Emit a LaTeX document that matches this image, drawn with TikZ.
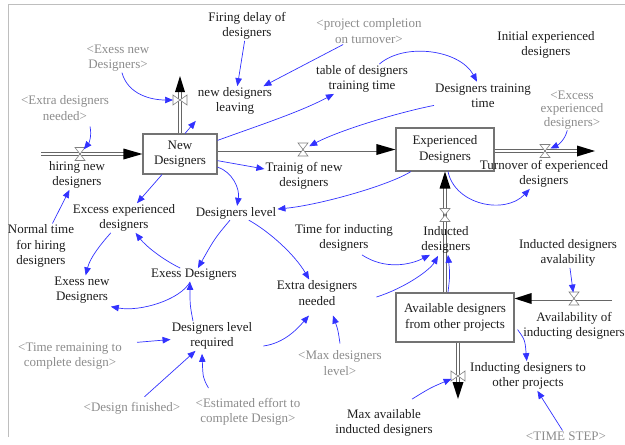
\documentclass[tikz,border=0pt]{standalone}
\usepackage{fontspec}
\setmainfont{Liberation Serif}
\usetikzlibrary{arrows.meta,calc}
\definecolor{linkblue}{RGB}{50,50,255}
\definecolor{shadowgray}{RGB}{140,140,140}
\definecolor{txt}{RGB}{30,30,30}
\definecolor{framegray}{RGB}{190,190,190}
\begin{document}
\begin{tikzpicture}[x=1pt,y=-1pt,
  lbl/.style={align=center,font=\fontsize{13}{15.5}\selectfont,inner sep=1pt,text=txt},
  shd/.style={lbl,text=shadowgray},
  stock/.style={lbl,draw=black!55,line width=1.1pt,fill=white,inner sep=0pt},
  link/.style={draw=linkblue,line width=0.7pt,-{Triangle[length=8pt,width=6.5pt]}},
  pipe/.style={draw=black!60,double=white,double distance=2.4pt,line width=0.8pt},
  pipehead/.style={fill=black},
  valveh/.pic={\draw[black!50,fill=white,line width=0.6pt] (-5,-6.5)--(5,-6.5)--(-5,6.5)--(5,6.5)--cycle;},
  valvev/.pic={\draw[black!50,fill=white,line width=0.6pt] (-7,-5)--(-7,5)--(7,-5)--(7,5)--cycle;},
]
\useasboundingbox (0,0) rectangle (625,445);
\draw[framegray,line width=0.8pt] (8,437) -- (8,4) -- (625,4);

% stocks
\node[stock,minimum width=74pt,minimum height=40pt] (ND) at (180,154) {New\\Designers};
\node[stock,minimum width=98pt,minimum height=43pt] (ED) at (445,149.5) {Experienced\\Designers};
\node[stock,minimum width=118pt,minimum height=49pt] (AD) at (455,317.5) {Available designers\\from other projects};

% pipes
\coordinate (src1) at (41,154);
\coordinate (snk1) at (180,76);
\coordinate (snk2) at (595,151);
\coordinate (src2) at (612,298.5);
\coordinate (snk3) at (458,399);
\draw[pipe] (src1) -- ($(ND.west)+(-17,0)$);
\fill[pipehead] ($(ND.west)+(-19,-5.5)$) -- (ND.west) -- ($(ND.west)+(-19,5.5)$) -- cycle;
\draw[pipe] (ND.north) -- ($(snk1)+(0,15)$);
\fill[pipehead] ($(snk1)+(-5,16)$) -- (snk1) -- ($(snk1)+(5,16)$) -- cycle;
\draw[pipe] (ND.east |- ED.west) -- ($(ED.west)+(-17,0)$);
\fill[pipehead] ($(ED.west)+(-19,-5.5)$) -- (ED.west) -- ($(ED.west)+(-19,5.5)$) -- cycle;
\draw[pipe] (ED.east |- snk2) -- ($(snk2)+(-16,0)$);
\fill[pipehead] ($(snk2)+(-18,-5.5)$) -- (snk2) -- ($(snk2)+(-18,5.5)$) -- cycle;
\draw[pipe] (ED.south |- AD.north) -- ($(ED.south)+(0,15)$);
\fill[pipehead] ($(ED.south)+(-5.5,17)$) -- (ED.south) -- ($(ED.south)+(5.5,17)$) -- cycle;
\draw[pipe] (src2) -- ($(AD.east |- src2)+(15,0)$);
\fill[pipehead] ($(AD.east |- src2)+(17,-5.5)$) -- (AD.east |- src2) -- ($(AD.east |- src2)+(17,5.5)$) -- cycle;
\draw[pipe] (AD.south -| snk3) -- ($(snk3)+(0,-15)$);
\fill[pipehead] ($(snk3)+(-5.5,-17)$) -- (snk3) -- ($(snk3)+(5.5,-17)$) -- cycle;

% valves
\coordinate (vh) at (80,154);
\coordinate (vl) at (180,100);
\coordinate (vt) at (303,149.5);
\coordinate (vto) at (545,151);
\coordinate (vi) at (445,215);
\coordinate (va) at (574,298.5);
\coordinate (vo) at (458,376);
\pic at (vh) {valveh};
\pic at (vl) {valvev};
\pic at (vt) {valveh};
\pic at (vto) {valveh};
\pic at (vi) {valveh};
\pic at (va) {valveh};
\pic at (vo) {valvev};

% variables
\node[lbl] (fd) at (247,26) {Firing delay of\\designers};
\node[shd] (pc) at (369,31) {<project completion\\on turnover>};
\node[lbl] (ied) at (546,45) {Initial experienced\\designers};
\node[shd] (enD) at (118,58) {<Exess new\\Designers>};
\node[lbl] (ndl) at (235,101) {new designers\\leaving};
\node[lbl] (tdt) at (362,79) {table of designers\\training time};
\node[lbl] (dtt) at (483,96) {Designers training\\time};
\node[shd] (edn) at (65,108) {<Extra designers\\needed>};
\node[shd,font=\fontsize{13}{13.5}\selectfont] (eed) at (572,110) {<Excess\\experienced\\designers>};
\node[lbl] (hnd) at (77,175) {hiring new\\designers};
\node[lbl] (tnd) at (304,176) {Trainig of new\\designers};
\node[lbl] (toed) at (544,174) {Turnover of experienced\\designers};
\node[lbl] (dl) at (236,213) {Designers level};
\node[lbl] (exd) at (124,218) {Excess experienced\\designers};
\node[lbl] (nth) at (41,246) {Normal time\\for hiring\\designers};
\node[lbl] (tid) at (344,238) {Time for inducting\\designers};
\node[lbl] (ind) at (446,240) {Inducted\\designers};
\node[lbl] (ida) at (568,253) {Inducted designers\\avalability};
\node[lbl] (exD) at (194,275) {Exess Designers};
\node[lbl] (exnD) at (82,290) {Exess new\\Designers};
\node[lbl] (xdn) at (317,293) {Extra designers\\needed};
\node[lbl] (aid) at (574,326) {Availability of\\inducting designers};
\node[lbl] (idop) at (528,376) {Inducting designers to\\other projects};
\node[lbl] (dlr) at (212,336) {Designers level\\required};
\node[shd] (trc) at (70,356) {<Time remaining to\\complete design>};
\node[shd] (mdl) at (340,363) {<Max designers\\level>};
\node[shd] (dfin) at (132,408) {<Design finished>};
\node[shd] (eec) at (248,412) {<Estimated effort to\\complete Design>};
\node[lbl] (mai) at (384,423) {Max available\\inducted designers};
\node[shd] (ts) at (566,436) {<TIME STEP>};

% connectors
\draw[link] (fd) -- (ndl);
\draw[link] (pc) -- (ndl);
\draw[link,shorten >=7pt] (enD) .. controls (128,95) and (152,100) .. (vl);
\draw[link] ($(ND.north)+(5,0)$) -- ($(ndl.south west)+(-1,5)$);
\draw[link] (ND) .. controls (260,125) and (300,112) .. (tdt);
\draw[link] (tdt) .. controls (405,42) and (460,50) .. ($(dtt.north)+(-6,-1)$);
\draw[link,shorten >=7pt] (dtt) .. controls (400,112) and (340,130) .. (vt);
\draw[link,shorten >=6pt] ($(edn.south)+(25,5)$) .. controls (92,136) and (89,143) .. (vh);
\draw[link] (ND) -- (tnd);
\draw[link] (ND) -- (exd);
\draw[link] (ND) .. controls (232,172) and (240,188) .. (dl);
\draw[link] (ED) .. controls (390,185) and (320,205) .. (dl);
\draw[link] ($(ED.south)+(3,0)$) .. controls (455,205) and (505,215) .. (toed);
\draw[link,shorten >=6pt] (eed) .. controls (565,140) and (558,145) .. (vto);
\draw[link] (nth) -- (hnd);
\draw[link] (exd) .. controls (100,245) and (90,258) .. (exnD);
\draw[link] (dl) .. controls (215,238) .. (exD);
\draw[link] (dl) .. controls (270,232) and (295,255) .. (xdn);
\draw[link] (exD) .. controls (160,258) and (145,245) .. (exd);
\draw[link] (exD) .. controls (180,300) and (140,312) .. ($(exnD.south east)+(0,2)$);
\draw[link] ($(dlr.north)+(-19,0)$) .. controls (190,305) .. ($(exD.south)+(-4,0)$);
\draw[link] ($(trc.north east)+(14,1)$) -- (dlr);
\draw[link,shorten <=6pt] (dfin) -- (dlr);
\draw[link] ($(eec.north west)+(14,-9)$) .. controls (203,378) .. ($(dlr.south)+(-10,3)$);
\draw[link] ($(dlr.east)+(10,10)$) .. controls (285,343) and (298,328) .. ($(xdn.south)+(-8,9)$);
\draw[link] ($(mdl.north)+(0,-6)$) .. controls (338,330) .. ($(xdn.south)+(16,9)$);
\draw[link] ($(tid.south)+(18,2)$) .. controls (385,270) and (410,265) .. ($(ind.south)+(-16,0)$);
\draw[link] ($(xdn.east)+(18,4)$) .. controls (405,288) and (430,270) .. ($(ind.south)+(-8,1)$);
\draw[link] ($(AD.north)+(-7,0)$) .. controls (450,275) .. ($(ind.south)+(2,0)$);
\draw[link,shorten >=6pt] (ida) -- (va);
\draw[link] ($(AD.east)+(3,12)$) .. controls (525,340) .. (idop);
\draw[link,shorten >=7pt] ($(mai.north)+(28,-9)$) .. controls (430,388) .. (vo);
\draw[link] (ts) -- (idop);
\end{tikzpicture}
\end{document}
